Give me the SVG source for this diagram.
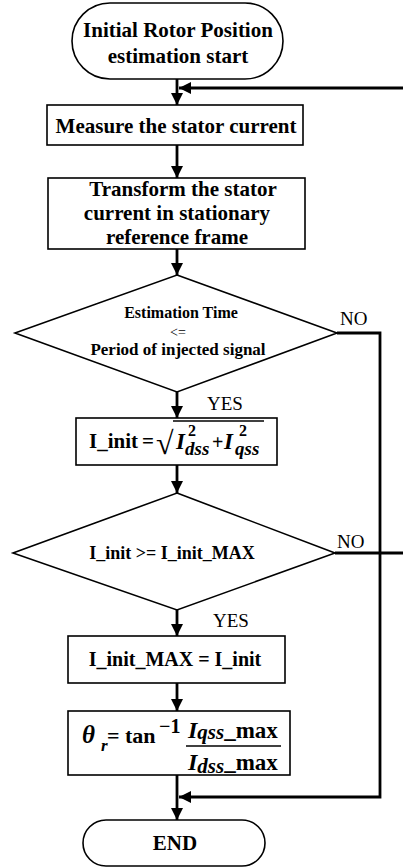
<svg xmlns="http://www.w3.org/2000/svg" width="403" height="868" viewBox="0 0 403 868">
<style>
.shape{fill:#fff;stroke:#000;stroke-width:1.6}
.t{font-family:"Liberation Serif","Times New Roman",serif;font-weight:bold;fill:#000}
.n{font-family:"Liberation Serif","Times New Roman",serif;font-weight:normal;fill:#000}
.i{font-style:italic}
.c{fill:none;stroke:#000;stroke-width:2.8}
</style>
<defs>
<marker id="ah" viewBox="0 0 10 10" refX="10" refY="5" markerWidth="4.4" markerHeight="4.4" orient="auto" markerUnits="strokeWidth">
<path d="M0,0 L10,5 L0,10 z" fill="#000"/>
</marker>
</defs>
<rect width="403" height="868" fill="#fff"/>
<g id="connectors">
<line class="c" x1="177" y1="79" x2="177" y2="105" marker-end="url(#ah)"/>
<line class="c" x1="403" y1="88" x2="179" y2="88" marker-end="url(#ah)"/>
<line class="c" x1="177" y1="145" x2="177" y2="178" marker-end="url(#ah)"/>
<line class="c" x1="177" y1="249" x2="177" y2="275" marker-end="url(#ah)"/>
<line class="c" x1="177" y1="392" x2="177" y2="418" marker-end="url(#ah)"/>
<polyline class="c" points="337,333 380,333 380,797 179,797" marker-end="url(#ah)"/>
<line class="c" x1="177" y1="465" x2="177" y2="493" marker-end="url(#ah)"/>
<line class="c" x1="335" y1="553" x2="403" y2="553"/>
<line class="c" x1="177" y1="610" x2="177" y2="636" marker-end="url(#ah)"/>
<line class="c" x1="177" y1="683" x2="177" y2="711" marker-end="url(#ah)"/>
<line class="c" x1="177" y1="775" x2="177" y2="820" marker-end="url(#ah)"/>
<text class="n" x="340" y="325" font-size="19">NO</text>
<text class="n" x="207" y="410" font-size="19">YES</text>
<text class="n" x="337" y="548" font-size="19">NO</text>
<text class="n" x="213" y="627" font-size="19">YES</text>
</g>
<g id="start">
<rect class="shape" x="72" y="3" width="211" height="76" rx="38"/>
<text class="t" x="178" y="37" font-size="21" text-anchor="middle">Initial Rotor Position</text>
<text class="t" x="178" y="63" font-size="21" text-anchor="middle">estimation start</text>
</g>
<g id="measure">
<rect class="shape" x="47" y="105" width="256" height="40"/>
<text class="t" x="176" y="133" font-size="21" text-anchor="middle">Measure the stator current</text>
</g>
<g id="transform">
<rect class="shape" x="48" y="178" width="257" height="71"/>
<text class="t" x="183" y="196" font-size="21" text-anchor="middle">Transform the stator</text>
<text class="t" x="177" y="220" font-size="21" text-anchor="middle">current in stationary</text>
<text class="t" x="177" y="244" font-size="21" text-anchor="middle">reference frame</text>
</g>
<g id="decision1">
<polygon class="shape" points="177,275 337,333 177,392 15,333"/>
<text class="t" x="181" y="318" font-size="16" text-anchor="middle">Estimation Time</text>
<text class="n" x="178" y="337" font-size="14" text-anchor="middle">&lt;=</text>
<text class="t" x="178" y="355" font-size="17" text-anchor="middle">Period of injected signal</text>
</g>
<g id="magnitude">
<rect class="shape" x="76" y="418" width="201" height="47"/>
<text class="t" x="89" y="448" font-size="21">I_init</text>
<text class="t" x="142" y="448" font-size="21">=</text>
<text class="n" x="156" y="454" font-size="32">√</text>
<line x1="173" y1="421" x2="264" y2="421" stroke="#000" stroke-width="1.4"/>
<text class="t i" x="176" y="449" font-size="23">I</text>
<text class="t" x="188" y="436" font-size="16">2</text>
<text class="t i" x="185" y="455" font-size="19">dss</text>
<text class="t" x="212" y="449" font-size="20">+</text>
<text class="t i" x="224" y="449" font-size="23">I</text>
<text class="t" x="239" y="436" font-size="16">2</text>
<text class="t i" x="235" y="455" font-size="19">qss</text>
</g>
<g id="decision2">
<polygon class="shape" points="177,493 335,553 177,610 13,553"/>
<text class="t" x="172" y="559" font-size="18" text-anchor="middle">I_init &gt;= I_init_MAX</text>
</g>
<g id="update">
<rect class="shape" x="68" y="636" width="217" height="47"/>
<text class="t" x="175" y="666" font-size="20" text-anchor="middle">I_init_MAX =  I_init</text>
</g>
<g id="angle">
<rect class="shape" x="68" y="711" width="222" height="64"/>
<text class="t i" x="82" y="743" font-size="25">θ</text>
<text class="t i" x="101" y="751" font-size="17">r</text>
<text class="t" x="107" y="743" font-size="22">= tan</text>
<text class="t" x="159" y="733" font-size="20">−1</text>
<text class="t" x="188" y="738" font-size="23"><tspan class="i" font-size="24">I</tspan><tspan class="i" font-size="21" dy="1">qss</tspan><tspan dy="-1">_max</tspan></text>
<line x1="186" y1="746" x2="281" y2="746" stroke="#000" stroke-width="1.5"/>
<text class="t" x="188" y="770" font-size="23"><tspan class="i" font-size="24">I</tspan><tspan class="i" font-size="21" dy="3">dss</tspan><tspan dy="-3">_max</tspan></text>
</g>
<g id="end">
<rect class="shape" x="83" y="820" width="182" height="46" rx="23"/>
<text class="t" x="175" y="850" font-size="21" text-anchor="middle">END</text>
</g>
</svg>
